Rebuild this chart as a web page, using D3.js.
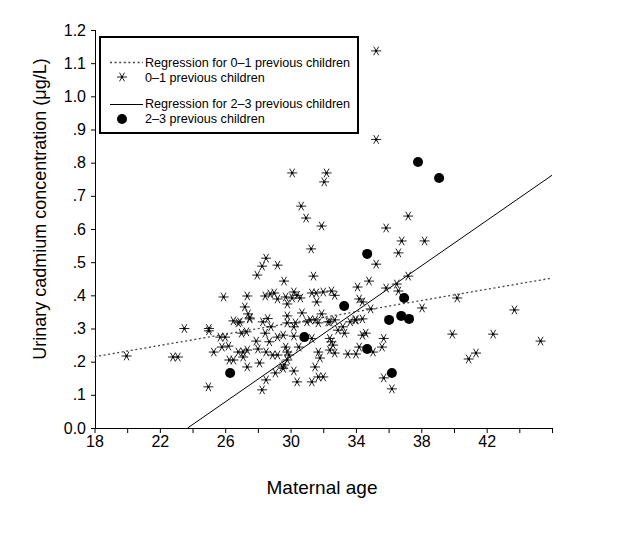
<!DOCTYPE html>
<html><head><meta charset="utf-8">
<script src="https://cdn.jsdelivr.net/npm/d3@7"></script>
<style>
html,body{margin:0;padding:0;background:#fff;}
svg{display:block;font-family:"Liberation Sans",Arial,sans-serif;}
</style></head>
<body>
<svg id="chart" width="640" height="536"></svg>
<script>
// ---- data (age, urinary cadmium µg/L) ----
const starsAge = [19.96,22.8,23.1,23.5,25.0,25.0,25.3,24.97,25.9,25.7,26.0,25.8,26.2,26.25,26.5,26.5,26.8,26.8,
26.9,27.5,28.3,28.6,28.8,29.8,27.0,27.3,27.9,28.45,28.7,29.2,27.1,27.1,27.35,28.0,27.35,28.1,28.5,28.9,29.2,29.8,28.5,28.26,29.07,29.5,29.6,29.8,
28.5,28.26,29.2,27.96,29.6,27.35,28.45,28.76,29.0,29.2,29.7,27.2,27.4,27.5,29.8,29.8,
31.26,31.4,35.24,34.8,34.1,35.85,30.2,30.4,30.1,30.6,31.3,31.57,32.0,31.6,32.5,32.7,34.2,34.4,34.9,30.7,31.9,31.5,31.2,32.4,33.95,34.4,
30.3,30.2,31.0,31.7,32.3,32.7,33.2,33.65,34.0,29.55,30.2,31.3,32.4,32.5,32.6,32.9,33.3,34.4,34.6,29.7,30.5,29.9,31.7,32.4,32.7,33.5,34.0,34.2,35.05,35.6,35.7,29.55,30.2,31.8,31.5,31.7,32.0,30.4,31.3,35.7,
37.2,35.85,36.8,38.2,36.6,37.2,36.5,36.6,40.2,38.05,43.7,39.9,42.4,45.3,40.9,41.35,36.2,
35.24,35.24,30.1,32.2,32.06,30.65,30.95,31.9];
const starsVal = [0.217,0.214,0.214,0.30,0.30,0.293,0.229,0.124,0.395,0.274,0.274,0.244,0.247,0.205,0.205,0.323,0.229,0.317,
0.32,0.329,0.32,0.33,0.305,0.317,0.286,0.29,0.262,0.286,0.26,0.274,0.229,0.214,0.235,0.238,0.184,0.196,0.229,0.22,0.22,0.229,0.145,0.115,0.166,0.184,0.19,0.205,
0.512,0.488,0.491,0.461,0.443,0.398,0.398,0.404,0.407,0.389,0.395,0.365,0.344,0.332,0.338,0.374,
0.54,0.458,0.494,0.443,0.425,0.422,0.41,0.40,0.392,0.392,0.407,0.407,0.41,0.38,0.413,0.40,0.389,0.38,0.359,0.347,0.344,0.326,0.326,0.32,0.326,0.329,
0.317,0.305,0.32,0.317,0.32,0.326,0.305,0.32,0.326,0.28,0.277,0.27,0.27,0.26,0.25,0.295,0.286,0.28,0.286,0.244,0.244,0.22,0.229,0.235,0.226,0.223,0.223,0.244,0.229,0.244,0.27,0.18,0.172,0.211,0.184,0.154,0.154,0.139,0.139,0.151,
0.639,0.603,0.564,0.564,0.528,0.458,0.434,0.413,0.392,0.362,0.356,0.283,0.283,0.262,0.208,0.226,0.118,
1.137,0.87,0.769,0.769,0.742,0.669,0.633,0.609];
const dotsAge = [26.3,30.84,33.28,34.69,34.69,36.03,36.77,37.25,36.95,36.2,37.8,39.09];
const dotsVal = [0.166,0.274,0.368,0.525,0.238,0.326,0.338,0.329,0.392,0.166,0.802,0.754];
const regLowAge = [18,46];
const regLowVal = [0.215,0.452];
const regHighAge = [23.7,46];
const regHighVal = [0,0.762];
const xTicks = [18,20,22,24,26,28,30,32,34,36,38,40,42,44,46];
const xLabels = [18,22,26,30,34,38,42];
const yTicks = [0,0.1,0.2,0.3,0.4,0.5,0.6,0.7,0.8,0.9,1.0,1.1,1.2];
const yLabels = ["0.0",".1",".2",".3",".4",".5",".6",".7",".8",".9","1.0","1.1","1.2"];
const legendItems = ["Regression for 0\u20131 previous children","0\u20131 previous children","Regression for 2\u20133 previous children","2\u20133 previous children"];

const svg = d3.select("#chart");
const x = d3.scaleLinear().domain([18,46]).range([94.5,552]);
const y = d3.scaleLinear().domain([0,1.2]).range([428,30]);

// axes
const xAxis = d3.axisBottom(x).tickValues(xTicks).tickSize(5).tickPadding(3)
  .tickFormat(d => xLabels.includes(d) ? d : "");
const gx = svg.append("g").attr("transform","translate(0,428)").call(xAxis);
gx.select(".domain").attr("stroke","#000").attr("d","M94.5,0.5H552");
gx.selectAll(".tick line").attr("stroke","#000");
gx.selectAll("text").attr("font-size",16).attr("fill","#000").attr("font-family","Liberation Sans, Arial, sans-serif");

const yAxis = d3.axisLeft(y).tickValues(yTicks).tickSize(4).tickPadding(5)
  .tickFormat((d,i) => yLabels[i]);
const gy = svg.append("g").attr("transform","translate(95,0)").call(yAxis);
gy.select(".domain").attr("stroke","#000").attr("d","M0.5,30V428");
gy.selectAll(".tick line").attr("stroke","#000");
gy.selectAll("text").attr("font-size",16).attr("fill","#000").attr("font-family","Liberation Sans, Arial, sans-serif");

// axis titles
svg.append("text").attr("x",322).attr("y",494).attr("text-anchor","middle")
  .attr("font-size",19).text("Maternal age");
svg.append("text").attr("transform","translate(46,209) rotate(-90)").attr("text-anchor","middle")
  .attr("font-size",18).text("Urinary cadmium concentration (\u03bcg/L)");

// regression lines
const line = d3.line().x(d=>x(d[0])).y(d=>y(d[1]));
svg.append("path").datum(regLowAge.map((a,i)=>[a,regLowVal[i]])).attr("d",line)
  .attr("fill","none").attr("stroke","#444").attr("stroke-width",1.3).attr("stroke-dasharray","2,2.6");
svg.append("path").datum(regHighAge.map((a,i)=>[a,regHighVal[i]])).attr("d",line)
  .attr("fill","none").attr("stroke","#000").attr("stroke-width",1);

// star marker
const R = 5;
function starPath(r){
  let p = "";
  [0,60,120].forEach(a=>{
    const t = a*Math.PI/180, dx = r*Math.cos(t), dy = r*Math.sin(t);
    p += `M${-dx},${-dy}L${dx},${dy}`;
  });
  return p;
}
const stars = svg.append("g");
starsAge.forEach((a,i)=>{
  const g = stars.append("g").attr("transform",`translate(${x(a)},${y(starsVal[i])})`);
  g.append("path").attr("d",starPath(R)).attr("stroke","#222").attr("stroke-width",1).attr("fill","none");
  g.append("circle").attr("r",1.2).attr("fill","#000");
});

// filled dots
svg.append("g").selectAll("circle").data(dotsAge.map((a,i)=>[a,dotsVal[i]])).join("circle")
  .attr("cx",d=>x(d[0])).attr("cy",d=>y(d[1])).attr("r",5).attr("fill","#000");

// legend
const lg = svg.append("g");
lg.append("rect").attr("x",100).attr("y",37).attr("width",258).attr("height",96)
  .attr("fill","#fff").attr("stroke","#000").attr("stroke-width",2);
const rowsY = [67,82,108,123];
legendItems.forEach((t,i)=>{
  lg.append("text").attr("x",145).attr("y",rowsY[i]).attr("font-size",12.6).text(t);
});
lg.append("line").attr("x1",110).attr("x2",143).attr("y1",62.5).attr("y2",62.5)
  .attr("stroke","#444").attr("stroke-width",1.3).attr("stroke-dasharray","2,2.6");
const ls = lg.append("g").attr("transform","translate(122,77)");
ls.append("path").attr("d",starPath(R)).attr("stroke","#222").attr("stroke-width",1);
ls.append("circle").attr("r",1.2).attr("fill","#000");
lg.append("line").attr("x1",110).attr("x2",143).attr("y1",104.5).attr("y2",104.5)
  .attr("stroke","#000").attr("stroke-width",1);
lg.append("circle").attr("cx",122).attr("cy",119).attr("r",5).attr("fill","#000");
</script>
</body></html>
